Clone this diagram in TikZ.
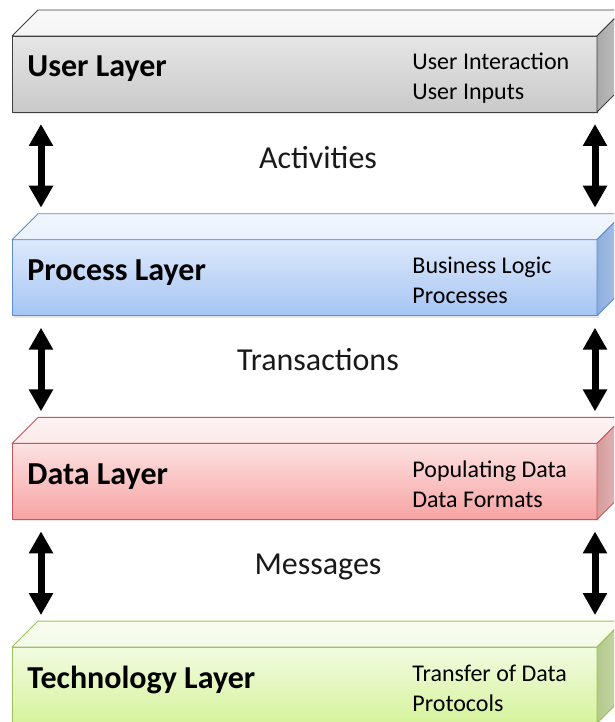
\documentclass[tikz,border=0pt]{standalone}
\usepackage{fontspec}
\setmainfont{Carlito}
\usetikzlibrary{arrows.meta, shadows}

\definecolor{userA}{HTML}{E6E6E6}
\definecolor{userB}{HTML}{C9C9C9}
\definecolor{userTop}{HTML}{F4F4F4}
\definecolor{userSide}{HTML}{A9A9A9}
\definecolor{userLine}{HTML}{3F3F3F}

\definecolor{procA}{HTML}{DDE9FB}
\definecolor{procB}{HTML}{A6C5F4}
\definecolor{procTop}{HTML}{E9F0FC}
\definecolor{procSide}{HTML}{8DADDC}
\definecolor{procLine}{HTML}{5B8BD0}

\definecolor{dataA}{HTML}{FDE2E2}
\definecolor{dataB}{HTML}{F7A3A3}
\definecolor{dataTop}{HTML}{FDEAEA}
\definecolor{dataSide}{HTML}{D69C9C}
\definecolor{dataLine}{HTML}{C95559}

\definecolor{techA}{HTML}{F2FBE1}
\definecolor{techB}{HTML}{D6F39C}
\definecolor{techTop}{HTML}{F4FBE7}
\definecolor{techSide}{HTML}{B4C98C}
\definecolor{techLine}{HTML}{9BC25A}

\begin{document}
\begin{tikzpicture}[x=1pt, y=-1pt, line width=0.9pt, line join=round,
            layer/.style ={rectangle, draw=#1Line, top color=#1A, bottom color=#1B,
            minimum width=585pt, minimum height=76pt, inner sep=0pt, outer sep=0pt,
            anchor=north west, drop shadow={shadow xshift=1.5pt, shadow yshift=-2pt, opacity=0.2}},
            topface/.style ={draw=#1Line, top color=#1Top!60!white, bottom color=#1Top},
            sideface/.style ={draw=#1Line, left color=#1Side, right color=#1Side!70!white},
            title/.style ={anchor=base west, inner sep=0pt, font=\fontsize{32}{38}\selectfont\bfseries},
            sub/.style ={anchor=base west, inner sep=0pt, align=left, font=\fontsize{24}{30}\selectfont},
            between/.style ={anchor=base, inner sep=0pt, text=black!90, font=\fontsize{32}{38}\selectfont},
            updown/.style ={{Triangle[width=23pt, length=22pt]}-{Triangle[width=23pt, length=22pt]}, line width=7pt}]

        \path[use as bounding box, clip] (0, 0) rectangle (614, 722);

        %%--------------------------layers--------------------------

        \node[layer=user] (user) at (12, 36) {};
        \node[layer=proc] (proc) at (12, 239.7) {};
        \node[layer=data] (data) at (12, 443.4) {};
        \node[layer=tech] (tech) at (12, 647.1) {};

        \draw[topface=user] (user.north west) -- ++(26, -26) -- ([shift={(26pt, 26pt)}]user.north east) -- (user.north east) -- cycle;
        \draw[sideface=user] (user.north east) -- ++(26, -26) -- ([shift={(26pt, 26pt)}]user.south east) -- (user.south east) -- cycle;

        \draw[topface=proc] (proc.north west) -- ++(26, -26) -- ([shift={(26pt, 26pt)}]proc.north east) -- (proc.north east) -- cycle;
        \draw[sideface=proc] (proc.north east) -- ++(26, -26) -- ([shift={(26pt, 26pt)}]proc.south east) -- (proc.south east) -- cycle;

        \draw[topface=data] (data.north west) -- ++(26, -26) -- ([shift={(26pt, 26pt)}]data.north east) -- (data.north east) -- cycle;
        \draw[sideface=data] (data.north east) -- ++(26, -26) -- ([shift={(26pt, 26pt)}]data.south east) -- (data.south east) -- cycle;

        \draw[topface=tech] (tech.north west) -- ++(26, -26) -- ([shift={(26pt, 26pt)}]tech.north east) -- (tech.north east) -- cycle;
        \draw[sideface=tech] (tech.north east) -- ++(26, -26) -- ([shift={(26pt, 26pt)}]tech.south east) -- (tech.south east) -- cycle;

        % base of a two line node = baseline of its last line
        \node[title] (userT) at (27, 77) {User Layer};
        \node[sub] (userS) at (412, 100) {User Interaction\\User Inputs};

        \node[title] (procT) at (27, 280.7) {Process Layer};
        \node[sub] (procS) at (412, 303.7) {Business Logic\\Processes};

        \node[title] (dataT) at (27, 484.4) {Data Layer};
        \node[sub] (dataS) at (412, 507.4) {Populating Data\\Data Formats};

        \node[title] (techT) at (27, 688.1) {Technology Layer};
        \node[sub] (techS) at (412, 711.1) {Transfer of Data\\Protocols};

        %%--------------------------arrows--------------------------

        \node[between] (act) at (318, 168) {Activities};
        \node[between] (trans) at (318, 370) {Transactions};
        \node[between] (msg) at (318, 574) {Messages};

        \draw[updown] ([xshift=29pt, yshift=-12pt]user.south west) -- ([xshift=29pt, yshift=32pt]proc.north west);
        \draw[updown] ([xshift=-2pt, yshift=-12pt]user.south east) -- ([xshift=-2pt, yshift=32pt]proc.north east);

        \draw[updown] ([xshift=29pt, yshift=-12pt]proc.south west) -- ([xshift=29pt, yshift=32pt]data.north west);
        \draw[updown] ([xshift=-2pt, yshift=-12pt]proc.south east) -- ([xshift=-2pt, yshift=32pt]data.north east);

        \draw[updown] ([xshift=29pt, yshift=-12pt]data.south west) -- ([xshift=29pt, yshift=32pt]tech.north west);
        \draw[updown] ([xshift=-2pt, yshift=-12pt]data.south east) -- ([xshift=-2pt, yshift=32pt]tech.north east);

    \end{tikzpicture}
\end{document}
